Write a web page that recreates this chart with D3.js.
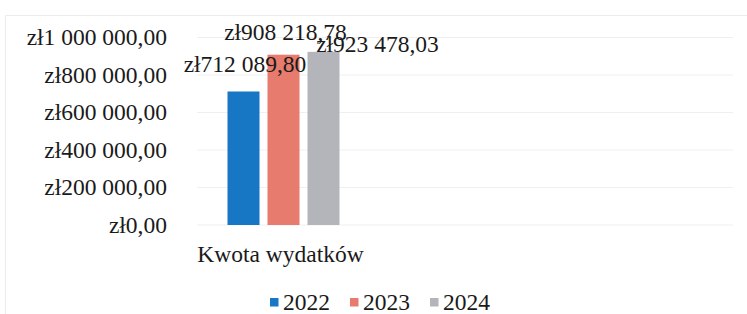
<!DOCTYPE html>
<html>
<head>
<meta charset="utf-8">
<script src="https://cdn.jsdelivr.net/npm/d3@7"></script>
<style>
  body { margin: 0; background: #fff; }
  svg { display: block; font-family: "Liberation Serif", "Times New Roman", serif; }
</style>
</head>
<body>
<div id="chart"></div>
<script>
// data
let categories = ["Kwota wydatków"];
let years = ["2022", "2023", "2024"];
let amounts = [712089.80, 908218.78, 923478.03];
let yTicks = [0, 200000, 400000, 600000, 800000, 1000000];
let colors = ["#1777c4", "#e77b6e", "#b3b5ba"];

function drawChart() {
  let W = 747, H = 314;
  let fontSize = "23.5px";
  let plot = { left: 197, right: 733, top: 37.5, bottom: 225 };

  // polish currency format: zł1 000 000,00
  let pl = d3.formatLocale({
    decimal: ",",
    thousands: "\u00a0",
    grouping: [3],
    currency: ["zł", ""]
  });
  let fmt = pl.format("$,.2f");

  let svg = d3.select("#chart")
    .append("svg")
    .attr("width", W)
    .attr("height", H);

  svg.append("rect").attr("width", W).attr("height", H).attr("fill", "#fff");

  // faint frame of the scanned chart area
  svg.append("rect")
    .attr("x", 5.5).attr("y", 15.5)
    .attr("width", W + 10).attr("height", H + 10)
    .attr("fill", "none")
    .attr("stroke", "#ececec");

  let y = d3.scaleLinear().domain([0, 1000000]).range([plot.bottom, plot.top]);

  // gridlines
  svg.append("g")
    .selectAll("line")
    .data(yTicks)
    .enter()
    .append("line")
    .attr("x1", plot.left)
    .attr("x2", plot.right)
    .attr("y1", d => y(d))
    .attr("y2", d => y(d))
    .attr("stroke", "#efefef")
    .attr("stroke-width", 1);

  // y axis labels
  svg.append("g")
    .selectAll("text")
    .data(yTicks)
    .enter()
    .append("text")
    .attr("x", 167)
    .attr("y", d => y(d))
    .attr("dy", "0.32em")
    .attr("text-anchor", "end")
    .style("font-size", fontSize)
    .style("fill", "#1a1a1a")
    .text(d => fmt(d));

  // category + series scales
  let x0 = d3.scaleBand().domain(categories).range([200, 367]);
  let x1 = d3.scaleBand().domain(years).range([0, 112]).paddingInner(0.2);
  let inset = (x0.bandwidth() - 112) / 2;

  let rows = years.map((yr, i) => ({ year: yr, value: amounts[i], color: colors[i], cat: categories[0] }));

  svg.append("g")
    .selectAll("rect")
    .data(rows)
    .enter()
    .append("rect")
    .attr("x", d => x0(d.cat) + inset + x1(d.year))
    .attr("y", d => y(d.value))
    .attr("width", x1.bandwidth())
    .attr("height", d => y(0) - y(d.value))
    .attr("fill", d => d.color);

  // data labels, excel-style nudged where they collide
  let nudge = [[1.5, -2], [2, 2], [54, 17]];
  svg.append("g")
    .selectAll("text")
    .data(rows)
    .enter()
    .append("text")
    .attr("x", (d, i) => x0(d.cat) + inset + x1(d.year) + x1.bandwidth() / 2 + nudge[i][0])
    .attr("y", (d, i) => y(d.value) - 17 + nudge[i][1])
    .attr("text-anchor", "middle")
    .style("font-size", fontSize)
    .style("fill", "#1a1a1a")
    .text(d => fmt(d.value));

  // category label
  svg.append("g")
    .selectAll("text")
    .data(categories)
    .enter()
    .append("text")
    .attr("x", d => x0(d) + x0.bandwidth() / 2 - 3)
    .attr("y", 262)
    .attr("text-anchor", "middle")
    .style("font-size", fontSize)
    .style("fill", "#1a1a1a")
    .text(d => d);

  // legend
  let legend = svg.append("g")
    .selectAll("g")
    .data(rows)
    .enter()
    .append("g")
    .attr("transform", (d, i) => "translate(" + (270 + i * 80) + ",0)");
  legend.append("rect")
    .attr("x", 0)
    .attr("y", 298)
    .attr("width", 8.5)
    .attr("height", 8.5)
    .attr("fill", d => d.color);
  legend.append("text")
    .attr("x", 13)
    .attr("y", 310)
    .style("font-size", fontSize)
    .style("fill", "#1a1a1a")
    .text(d => d.year);
}
drawChart();
</script>
</body>
</html>
